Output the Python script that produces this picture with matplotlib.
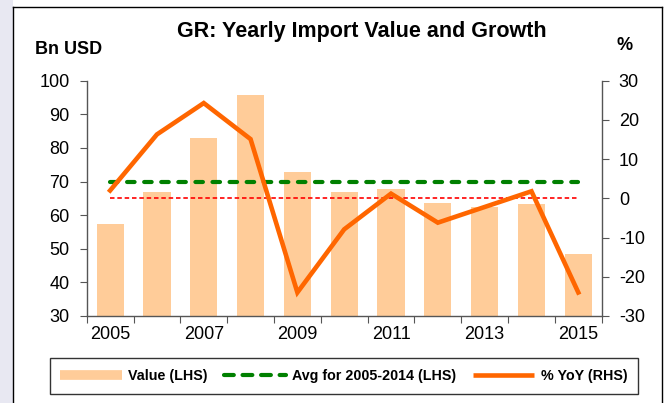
import matplotlib
matplotlib.use("Agg")
import matplotlib.pyplot as plt
from matplotlib.lines import Line2D
from matplotlib.patches import Rectangle
import numpy as np

plt.rcParams['font.family'] = ['Liberation Sans', 'DejaVu Sans']
plt.rcParams['axes.unicode_minus'] = False

years = [2005, 2006, 2007, 2008, 2009, 2010, 2011, 2012, 2013, 2014, 2015]
value_bn_usd = [57.5, 66.8, 83.0, 95.7, 72.8, 67.0, 67.9, 63.7, 62.3, 63.4, 48.3]
yoy_pct = [2.0, 16.3, 24.3, 15.1, -24.0, -7.9, 1.2, -6.2, -2.2, 1.8, -24.0]
left_ticks = [30, 40, 50, 60, 70, 80, 90, 100]
right_ticks = [-30, -20, -10, 0, 10, 20, 30]
avg_years = (2005, 2014)

W, H = 672, 403
fig = plt.figure(figsize=(W / 100, H / 100), dpi=100)
fig.patch.set_facecolor('white')

# left lavender strip and outer frame
fig.patches.append(Rectangle((0, 0), 12.5 / W, 1, transform=fig.transFigure,
                             facecolor='#e8e8f2', edgecolor='none', zorder=0))
frame_left, frame_right, frame_top = 13 / W, 662 / W, 1 - 7 / H
fig.add_artist(Line2D([frame_left, frame_left], [0, frame_top], color='black', lw=1.0,
                      transform=fig.transFigure))
fig.add_artist(Line2D([frame_left, frame_right], [frame_top, frame_top], color='black', lw=1.0,
                      transform=fig.transFigure))
fig.add_artist(Line2D([frame_right, frame_right], [0, frame_top], color='black', lw=1.0,
                      transform=fig.transFigure))

x0, x1 = 86.7, 601.7
yb, yt = 316, 80.7
ax = fig.add_axes([x0 / W, 1 - yb / H, (x1 - x0) / W, (yb - yt) / H])
ax2 = ax.twinx()

x = np.arange(len(years))
ax.bar(x, value_bn_usd, width=0.58, color='#ffcc99', zorder=1)

mask = [(y >= avg_years[0]) and (y <= avg_years[1]) for y in years]
avg = np.mean([v for v, m in zip(value_bn_usd, mask) if m])
ax.plot([x[0], x[-1]], [avg, avg], color='#008000', lw=3.0, ls=(0, (1.8, 2.3)),
        dash_capstyle='round', zorder=3)

ax2.plot([x[0], x[-1]], [0, 0], color='#ff0000', lw=1.2, ls=(0, (2.7, 1.7)), zorder=2)
ax2.plot(x, yoy_pct, color='#ff6600', lw=3.3, zorder=4, solid_joinstyle='miter')

ax.set_xlim(-0.5, len(years) - 0.5)
ax.set_ylim(30, 100)
ax2.set_ylim(-30, 30)
ax.set_yticks(left_ticks)
ax2.set_yticks(right_ticks)

ax.set_xticks(np.arange(-0.5, len(years), 1.0))
ax.set_xticklabels([])
ax.set_xticks(x, minor=True)
ax.set_xticklabels([str(y) if i % 2 == 0 else '' for i, y in enumerate(years)], minor=True)
ax.tick_params(axis='x', which='minor', length=0, pad=7, labelsize=13)
ax.tick_params(axis='x', which='major', length=5, direction='out', color='#555555')
ax.tick_params(axis='y', length=5.3, direction='out', labelsize=13, pad=7, color='#555555')
ax2.tick_params(axis='y', length=5.3, direction='out', labelsize=13, pad=7, color='#555555')

for a in (ax, ax2):
    a.spines['top'].set_visible(False)
    for s in ('left', 'right', 'bottom'):
        a.spines[s].set_color('#555555')
        a.spines[s].set_linewidth(1.0)
    a.set_facecolor('none')
ax2.spines['left'].set_visible(False)
ax2.spines['bottom'].set_visible(False)
ax.spines['right'].set_visible(False)

fig.text(362 / W, 1 - 31 / H, 'GR: Yearly Import Value and Growth', ha='center', va='center',
         fontsize=15.5, fontweight='bold')
fig.text(35 / W, 1 - 50 / H, 'Bn USD', ha='left', va='center', fontsize=13, fontweight='bold')
fig.text(625 / W, 1 - 46 / H, '%', ha='center', va='center', fontsize=13, fontweight='bold')

handles = [Line2D([], [], color='#ffcc99', lw=7, solid_capstyle='butt'),
           Line2D([], [], color='#008000', lw=3.0, ls=(0, (2.35, 2.1)), dash_capstyle='round'),
           Line2D([], [], color='#ff6600', lw=3.3, solid_capstyle='butt')]
labels = ['Value (LHS)', 'Avg for 2005-2014 (LHS)', '% YoY (RHS)']
leg = fig.legend(handles, labels, loc='center', bbox_to_anchor=(343.9 / W, 1 - 376 / H),
                 ncol=3, frameon=True, fancybox=False, edgecolor='black',
                 prop={'weight': 'bold', 'size': 10.3}, handlelength=4.3, handletextpad=0.45,
                 columnspacing=1.15, borderpad=0.75)
leg.get_frame().set_linewidth(1.0)

fig.savefig('out.png', dpi=100, facecolor=fig.get_facecolor())
